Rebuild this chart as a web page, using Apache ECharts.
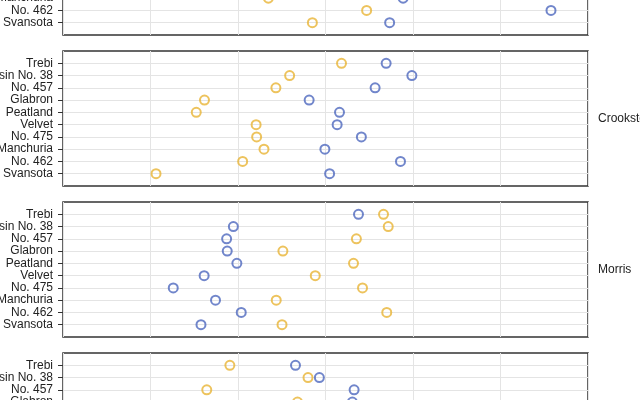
<!DOCTYPE html>
<html>
<head>
<meta charset="utf-8">
<script src="https://cdn.jsdelivr.net/npm/echarts@6/dist/echarts.min.js"></script>
<style>
  html, body { margin: 0; padding: 0; background: #fff; }
  #main { width: 640px; height: 400px; }
</style>
</head>
<body>
<div id="main"></div>
<script>
// barley yields, rows in display order
const varieties = ['Trebi', 'Wisconsin No. 38', 'No. 457', 'Glabron', 'Peatland',
    'Velvet', 'No. 475', 'Manchuria', 'No. 462', 'Svansota'];
const sites = ['Waseca', 'Crookston', 'Morris', 'University Farm'];

const waseca_1931 = [63.83, 58.80, 58.10, 55.20, 48.57, 50.23, 46.77, 48.87, 65.77, 47.33];
const waseca_1932 = [49.23, 58.17, 42.20, 37.73, 36.03, 37.40, 41.27, 33.47, 44.70, 38.50];
const crookston_1931 = [46.93, 49.87, 45.67, 38.13, 41.60, 41.33, 44.10, 39.93, 48.57, 40.47];
const crookston_1932 = [41.83, 35.90, 34.33, 26.17, 25.23, 32.07, 32.13, 32.97, 30.53, 20.63];
const morris_1931 = [43.77, 29.47, 28.70, 28.77, 29.87, 26.13, 22.60, 27.43, 30.37, 25.77];
const morris_1932 = [46.63, 47.17, 43.53, 35.13, 43.20, 38.83, 44.23, 34.37, 47.00, 35.03];
const farm_1931 = [36.57, 39.30, 43.27, 43.07, 32.77, 39.90, 24.67, 27.00, 36.60, 35.13];
const farm_1932 = [29.07, 38.00, 26.43, 36.80, 28.07, 26.80, 30.00, 26.90, 25.57, 27.43];

const yields = [
    [waseca_1931, waseca_1932],
    [crookston_1931, crookston_1932],
    [morris_1931, morris_1932],
    [farm_1931, farm_1932]
];

const color_1931 = '#4e68be';
const color_1932 = '#e8b435';
const font = '"Liberation Sans", Arial, sans-serif';

const cats = [''].concat(varieties, ['']);
const skipEnds = (i) => i > 0 && i < cats.length - 1;

let grids = [], xAxes = [], yAxes = [], series = [], labels = [];
sites.forEach((site, i) => {
    let top = 51 + 151 * (i - 1);
    grids.push({left: 63, right: 52, top: top, height: 135, show: true,
        outerBoundsMode: 'none', containLabel: false,
        borderColor: '#333', borderWidth: 1.5, backgroundColor: 'transparent'});
    xAxes.push({
        type: 'value', gridIndex: i, min: 10, max: 70, interval: 10,
        axisLine: {show: false}, axisTick: {show: false}, axisLabel: {show: false},
        splitLine: {lineStyle: {color: '#e4e4e4'}}
    });
    yAxes.push({
        type: 'category', gridIndex: i, data: cats, inverse: true, boundaryGap: false,
        axisLine: {show: false},
        axisTick: {length: 5, interval: skipEnds, lineStyle: {color: '#333'}},
        axisLabel: {margin: 10, color: '#222', fontSize: 12, fontFamily: font, interval: skipEnds},
        splitLine: {show: true, interval: skipEnds, lineStyle: {color: '#e4e4e4'}}
    });
    ['1931', '1932'].forEach((year, k) => {
        series.push({
            name: year, type: 'scatter', xAxisIndex: i, yAxisIndex: i,
            symbol: 'circle', symbolSize: 9,
            itemStyle: {color: 'rgba(0,0,0,0)', borderColor: k === 0 ? color_1931 : color_1932, borderWidth: 2},
            data: yields[i][k].map((v, j) => [v, varieties[j]]),
            z: k === 0 ? 3 : 2
        });
    });
    labels.push({
        type: 'text', x: 598, y: top + 67.5,
        style: {text: site, fill: '#222', font: '12px ' + font, textVerticalAlign: 'middle'}
    });
});

let chart = echarts.init(document.getElementById('main'));
chart.setOption({
    animation: false,
    grid: grids,
    xAxis: xAxes,
    yAxis: yAxes,
    series: series,
    graphic: labels
});
</script>
</body>
</html>
